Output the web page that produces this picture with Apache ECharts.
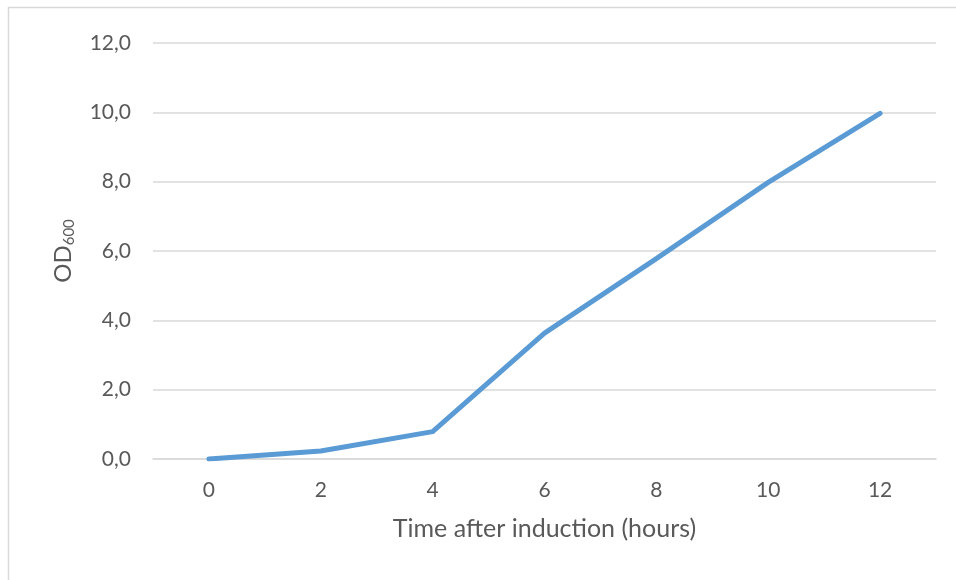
<!DOCTYPE html>
<html>
<head>
<meta charset="utf-8">
<style>
  html, body { margin: 0; padding: 0; background: #fff; }
  #chart { width: 956px; height: 580px; }
</style>
<script src="https://cdn.jsdelivr.net/npm/echarts@6/dist/echarts.min.js"></script>
</head>
<body>
<div id="chart"></div>
<script>
// Growth curve after induction
const hours = ['0', '2', '4', '6', '8', '10', '12'];
const od600 = [0.0, 0.23, 0.79, 3.63, 5.78, 7.98, 9.97];
const yTicks = { min: 0, max: 12, step: 2 };

const textColor = '#595959';
const gridColor = '#D9D9D9';
const fontFamily = 'Lato, "Open Sans", "Noto Sans", sans-serif';

const chart = echarts.init(document.getElementById('chart'), null, { renderer: 'canvas' });

chart.setOption({
  backgroundColor: '#ffffff',
  animation: false,
  graphic: [{
    type: 'rect',
    shape: { x: 8.5, y: 7.5, width: 1000, height: 700 },
    style: { fill: 'none', stroke: gridColor, lineWidth: 1.5 },
    silent: true
  }],
  grid: { left: 153, right: 20, top: 43, bottom: 121, containLabel: false },
  xAxis: {
    type: 'category',
    data: hours,
    boundaryGap: true,
    name: 'Time after induction (hours)',
    nameLocation: 'middle',
    nameGap: 57,
    nameTextStyle: { color: textColor, fontSize: 25, fontFamily },
    axisLine: { show: true, lineStyle: { color: gridColor, width: 1.5 } },
    axisTick: { show: false },
    axisLabel: { color: textColor, fontSize: 21, fontFamily, margin: 21 }
  },
  yAxis: {
    type: 'value',
    min: yTicks.min,
    max: yTicks.max,
    interval: yTicks.step,
    name: '{main|OD}{sub|600}',
    nameLocation: 'middle',
    nameGap: 76,
    nameRotate: 90,
    nameTextStyle: {
      rich: {
        main: { color: textColor, fontSize: 24, fontFamily },
        sub: { color: textColor, fontSize: 15, fontFamily, padding: [13, 0, 0, 0] }
      }
    },
    axisLine: { show: false },
    axisTick: { show: false },
    splitLine: { show: true, lineStyle: { color: gridColor, width: 1.5 } },
    axisLabel: {
      color: textColor, fontSize: 21, fontFamily, margin: 22,
      formatter: v => v.toFixed(1).replace('.', ',')
    }
  },
  series: [{
    type: 'line',
    data: od600,
    symbol: 'none',
    lineStyle: { color: '#5B9BD5', width: 5, cap: 'round', join: 'round' },
    itemStyle: { color: '#5B9BD5' }
  }]
});
</script>
</body>
</html>
